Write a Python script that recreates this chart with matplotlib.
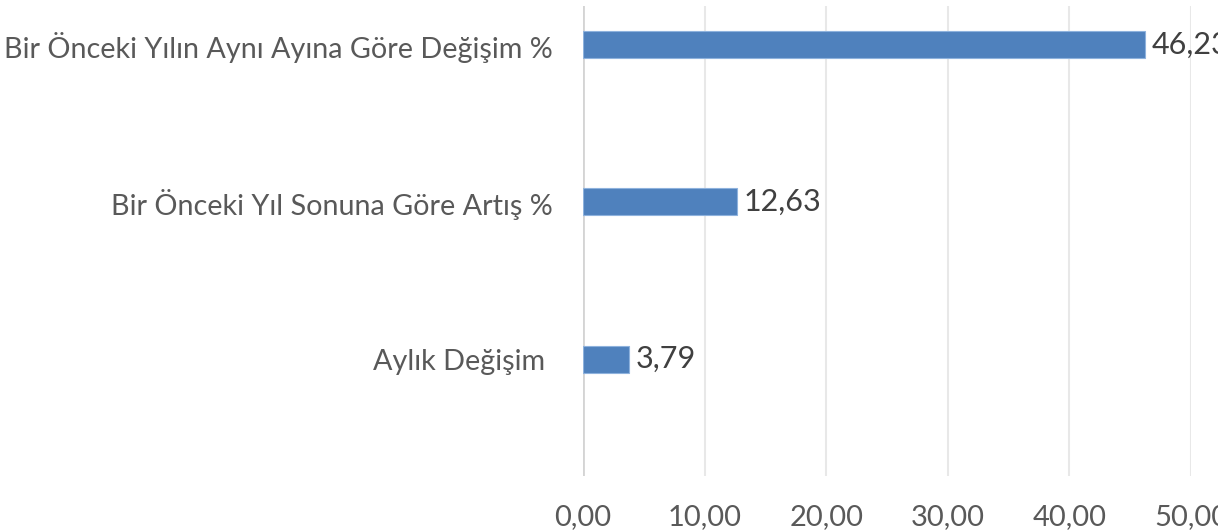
import matplotlib
matplotlib.use("Agg")
import matplotlib.pyplot as plt

categories = ["Aylık Değişim ", "Bir Önceki Yıl Sonuna Göre Artış %", "Bir Önceki Yılın Aynı Ayına Göre Değişim %"]
values = [3.79, 12.63, 46.23]
xticks = [0, 10, 20, 30, 40, 50]

plt.rcParams['font.family'] = ['Lato', 'DejaVu Sans']

fig = plt.figure(figsize=(12.18, 5.31), dpi=100)
ax = fig.add_axes([583 / 1218, 55 / 531, (1191 - 583) / 1218, 470 / 531])

ypos = list(range(len(categories)))
ax.barh(ypos, values, height=0.172, color="#4F81BD", edgecolor="#8EB2DD", linewidth=0.8, zorder=3)

for y, v in zip(ypos, values):
    ax.text(v + 0.55, y, f"{v:.2f}".replace(".", ","), va="center", ha="left",
            fontsize=22, color="#404040", clip_on=False)

ax.set_xlim(0, 50)
ax.set_ylim(-0.745, 2.248)
ax.set_xticks(xticks)
ax.set_xticklabels([f"{t:.2f}".replace(".", ",") for t in xticks], fontsize=21, color="#595959")
ax.set_yticks(ypos)
ax.set_yticklabels(categories, fontsize=20.7, color="#595959")
ax.tick_params(axis="both", length=0)
ax.tick_params(axis="x", pad=20)
ax.tick_params(axis="y", pad=22)

ax.grid(axis="x", color="#E8E8E8", linewidth=1.5, zorder=0)
ax.axvline(0, color="#D4D4D4", linewidth=2, zorder=2)
for s in ax.spines.values():
    s.set_visible(False)

fig.savefig("out.png", dpi=100)
